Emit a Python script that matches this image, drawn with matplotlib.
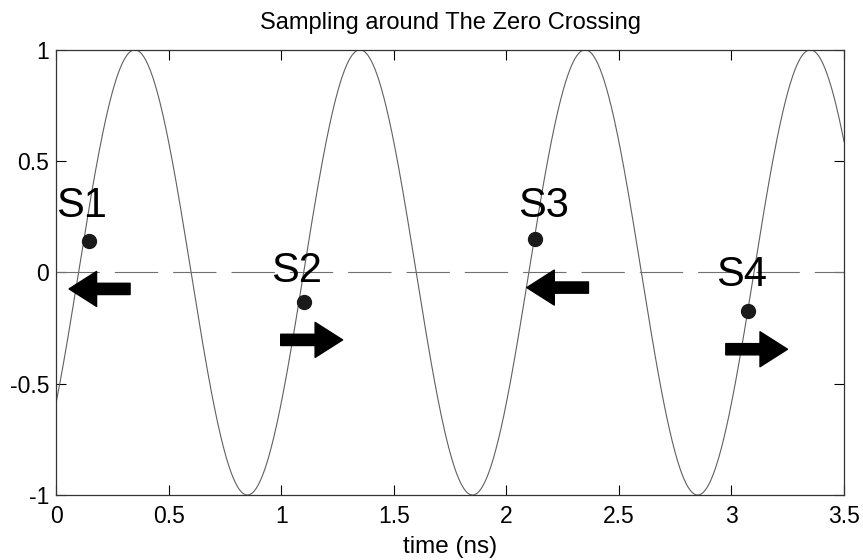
import numpy as np
import matplotlib
matplotlib.use("Agg")
import matplotlib.pyplot as plt

# signal parameters (1 GHz sine, zero crossing at 0.1 ns)
period_ns = 1.0
phase_ns = 0.1
amplitude = 1.0
t_start, t_end = 0.0, 3.5

# sample points around the zero crossings
sample_names = ["S1", "S2", "S3", "S4"]
sample_t = [0.147, 1.103, 2.128, 3.073]
sample_v = [0.142, -0.134, 0.151, -0.172]

# label anchor positions (centre of text)
label_t = [0.115, 1.069, 2.164, 3.046]
label_v = [0.30, 0.008, 0.30, -0.011]

# direction arrows: tail, tip and level
arrow_tail = [0.329, 0.998, 2.365, 2.975]
arrow_tip = [0.058, 1.273, 2.091, 3.249]
arrow_v = [-0.074, -0.303, -0.068, -0.345]

x_ticks = [0, 0.5, 1, 1.5, 2, 2.5, 3, 3.5]
x_tick_labels = ["0", "0.5", "1", "1.5", "2", "2.5", "3", "3.5"]
y_ticks = [-1, -0.5, 0, 0.5, 1]
y_tick_labels = ["-1", "-0.5", "0", "0.5", "1"]

plt.rcParams['font.family'] = ['Liberation Sans', 'DejaVu Sans']

fig = plt.figure(figsize=(8.63, 5.60), dpi=100)
ax = fig.add_axes([0.0649, 0.116, 0.9131, 0.795])

t = np.linspace(t_start, t_end, 2000)
v = amplitude * np.sin(2 * np.pi * (t - phase_ns) / period_ns)
ax.plot(t, v, color='#606060', linewidth=0.8)

# zero reference
ax.plot([t_start, t_end], [0, 0], color='#707070', linewidth=0.8,
        linestyle=(0, (39, 13.5)))

ax.plot(sample_t, sample_v, 'o', color='#1a1a1a', markersize=10)

for name, lt, lv in zip(sample_names, label_t, label_v):
    ax.text(lt, lv, name, fontsize=30, ha='center', va='center', color='black')

for tail, tip, lv in zip(arrow_tail, arrow_tip, arrow_v):
    ax.annotate("", xy=(tip, lv), xytext=(tail, lv),
                arrowprops=dict(arrowstyle="simple,head_length=1.1,head_width=1.4,tail_width=0.45",
                                color='black', shrinkA=0, shrinkB=0, mutation_scale=18))

ax.set_xlim(t_start, t_end)
ax.set_ylim(-1, 1)
ax.set_xticks(x_ticks)
ax.set_xticklabels(x_tick_labels)
ax.set_yticks(y_ticks)
ax.set_yticklabels(y_tick_labels)
ax.tick_params(direction='in', top=True, right=True, length=7, width=0.8,
               labelsize=16.5)
ax.tick_params(axis='x', pad=7)
ax.tick_params(axis='y', pad=5)
for s in ax.spines.values():
    s.set_linewidth(0.9)
    s.set_color('#333333')

ax.set_xlabel("time (ns)", fontsize=17.5, labelpad=6)
ax.set_title("Sampling around The Zero Crossing", fontsize=17, pad=15)

fig.savefig("out.png", dpi=100)
